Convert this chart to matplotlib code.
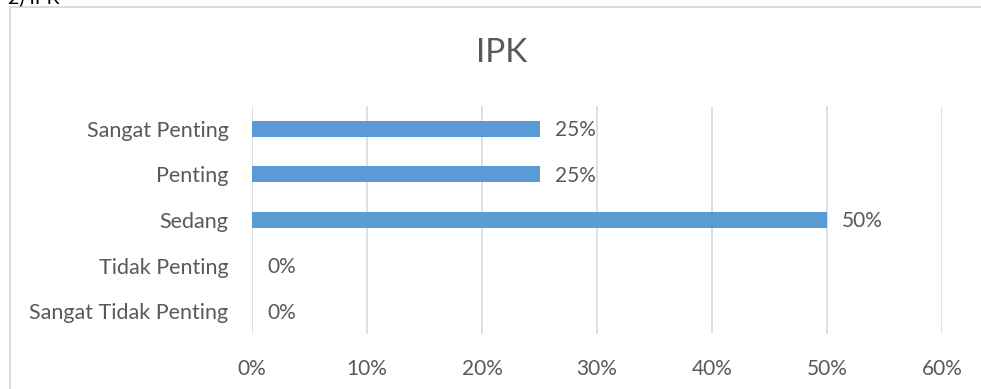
import matplotlib.pyplot as plt
from matplotlib.patches import Rectangle
from matplotlib.ticker import FuncFormatter

# data (bottom to top as drawn by barh)
categories = ["Sangat Tidak Penting", "Tidak Penting", "Sedang", "Penting", "Sangat Penting"]
values = [0.0, 0.0, 0.50, 0.25, 0.25]
x_ticks = [0.0, 0.1, 0.2, 0.3, 0.4, 0.5, 0.6]

plt.rcParams['font.family'] = ['Lato', 'DejaVu Sans']
gray_text = '#595959'
grid_gray = '#d9d9d9'
bar_blue = '#5b9bd5'

fig = plt.figure(figsize=(9.81, 3.89), dpi=100)
W, H = 981.0, 389.0

# outer chart border (runs off the right and bottom edge)
fig.patches.append(Rectangle((9.5 / W, -0.1), 1.2, 1.1 - 7.5 / H,
                             transform=fig.transFigure, fill=False,
                             edgecolor=grid_gray, linewidth=1.3))

# heading of the page, mostly cropped away
fig.text(8 / W, 1 - 3 / H, "2) IPK", fontsize=14, color='black',
         ha='left', va='baseline')

ax = fig.add_axes([252 / W, 1 - 334 / H, 690 / W, 228 / H])
ax.barh(categories, values, height=0.35, color=bar_blue, zorder=3)

ax.set_xlim(0, 0.6)
ax.set_ylim(-0.5, len(categories) - 0.5)
ax.set_xticks(x_ticks)
ax.xaxis.set_major_formatter(FuncFormatter(lambda v, p: "%d%%" % round(v * 100)))
ax.grid(axis='x', color=grid_gray, linewidth=1.2, zorder=0)
ax.grid(axis='y', visible=False)
for s in ax.spines.values():
    s.set_visible(False)
ax.tick_params(axis='x', length=0, pad=18, labelsize=15, labelcolor=gray_text)
ax.tick_params(axis='y', length=0, pad=17, labelsize=15.5, labelcolor=gray_text)

# data labels
for i, v in enumerate(values):
    ax.annotate("%d%%" % round(v * 100), xy=(v, i), xytext=(11, -1),
                textcoords='offset points', ha='left', va='center',
                fontsize=15, color=gray_text)

fig.text(502 / W, 1 - 53 / H, "IPK", fontsize=24, color=gray_text,
         ha='center', va='center')

fig.savefig('out.png', dpi=100)
